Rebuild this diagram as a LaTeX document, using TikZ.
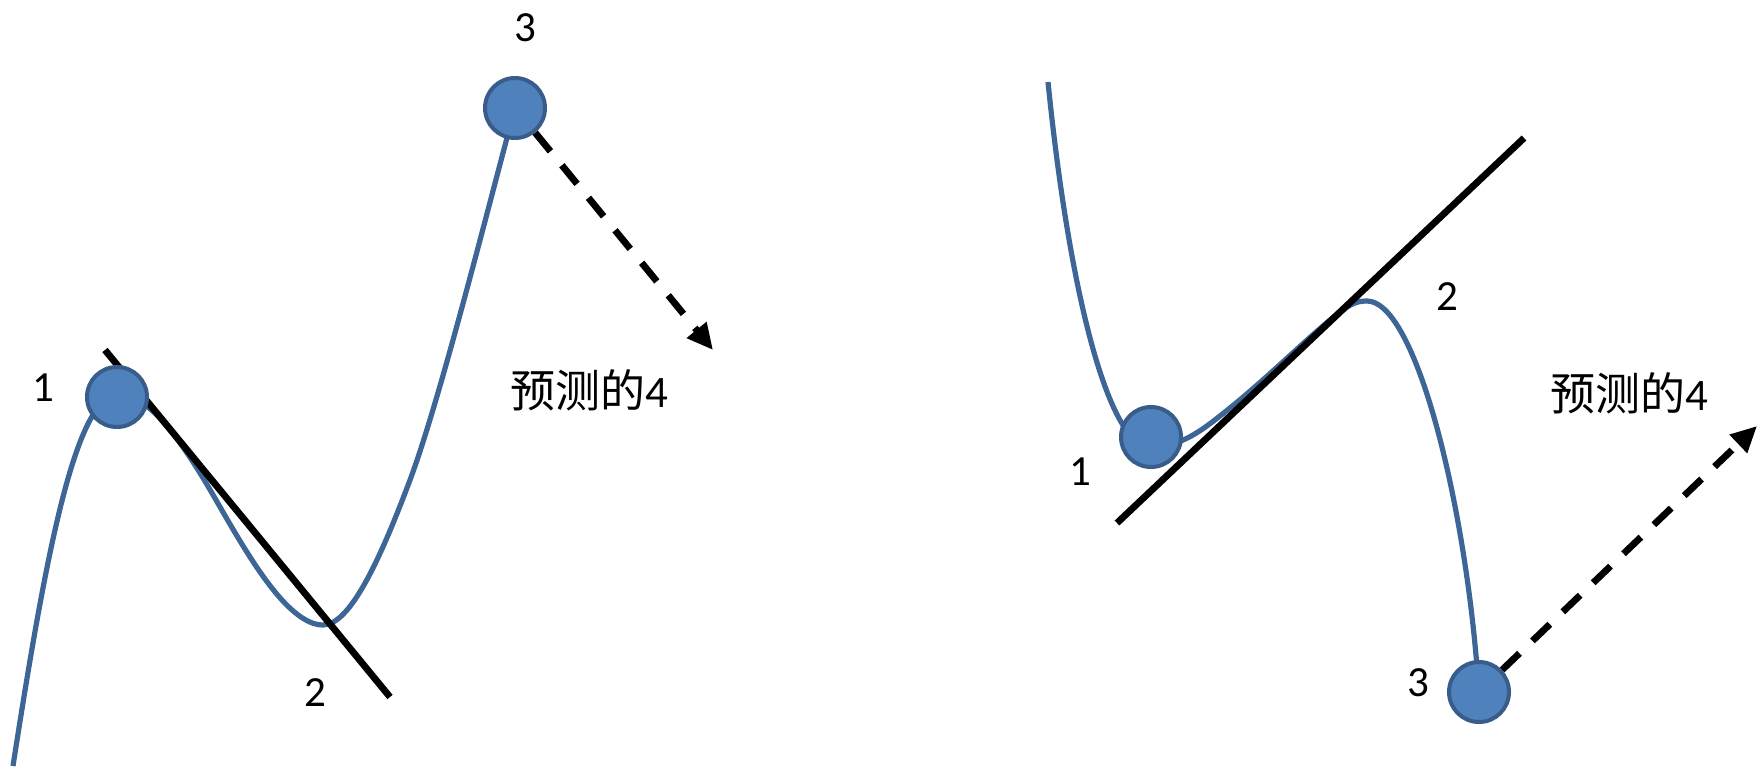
\documentclass[tikz,border=0pt]{standalone}
\usepackage{fontspec}
\setmainfont{Carlito}
\newfontfamily\cjk{Noto Sans CJK SC}
\usetikzlibrary{arrows.meta}
\definecolor{dotfill}{HTML}{4F81BD}
\definecolor{dotline}{HTML}{385D8A}
\definecolor{curveblue}{HTML}{3D6596}
\begin{document}
\begin{tikzpicture}[x=0.5pt,y=-0.5pt,
  dot/.style={circle,fill=dotfill,draw=dotline,line width=2pt,minimum size=30pt,inner sep=0pt},
  lbl/.style={inner sep=0pt,font=\fontsize{21.5pt}{26pt}\selectfont},
  predtext/.style={inner sep=0pt,font=\fontsize{22.5pt}{27pt}\selectfont},
  curve/.style={draw=curveblue,line width=2.6pt},
  tangent/.style={draw=black,line width=3.4pt},
  pred/.style={draw=black,line width=3.4pt,dash pattern=on 12pt off 9pt,-{Triangle[length=13pt,width=12pt]}}]
\useasboundingbox (0,0) rectangle (1759,766);
% curves
\draw[curve] (13,766) .. controls (45,560) and (75,395) .. (118,395)
  .. controls (145,395) and (170,425) .. (200,473)
  .. controls (230,521) and (280,625) .. (323,625)
  .. controls (350,625) and (380,560) .. (410,480)
  .. controls (440,400) and (490,200) .. (515,108);
\draw[curve] (1048,82) .. controls (1070,300) and (1110,447) .. (1150,447)
  .. controls (1180,447) and (1200,432) .. (1225,412)
  .. controls (1265,380) and (1300,345) .. (1330,320)
  .. controls (1348,305) and (1355,301) .. (1367,301)
  .. controls (1415,301) and (1465,500) .. (1478,680);
% tangent lines
\coordinate (lt1) at (105,350);
\coordinate (lt2) at (390,697);
\coordinate (rt1) at (1117,523);
\coordinate (rt2) at (1524,138);
\draw[tangent] (lt1) -- (lt2);
\draw[tangent] (rt1) -- (rt2);
% dots
\node[dot] (l1) at (117,397) {};
\node[dot] (l3) at (515,108) {};
\node[dot] (r1) at (1151,437) {};
\node[dot] (r3) at (1479,692) {};
% predictions
\coordinate (l4) at (713,350);
\coordinate (r4) at (1757,426);
\draw[pred] (l3) -- (l4);
\draw[pred] (r3) -- (r4);
% labels
\node[lbl] (ln1) at (43,388) {1};
\node[lbl] (ln2) at (315,693) {2};
\node[lbl] (ln3) at (525,28) {3};
\node[lbl] (rn1) at (1080,472) {1};
\node[lbl] (rn2) at (1447,297) {2};
\node[lbl] (rn3) at (1418,683) {3};
\node[predtext] (lp4) at (589,390) {{\cjk 预测的}4};
\node[predtext] (rp4) at (1629,393) {{\cjk 预测的}4};
\end{tikzpicture}
\end{document}
